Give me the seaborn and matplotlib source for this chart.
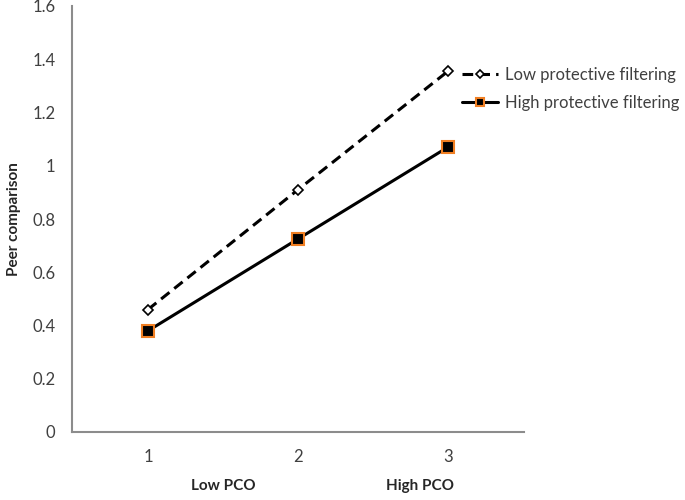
import pandas as pd
import matplotlib
matplotlib.use("Agg")
import matplotlib.pyplot as plt
import seaborn as sns

# data
pco_level = [1, 2, 3]
low_filtering = [0.46, 0.91, 1.355]
high_filtering = [0.38, 0.725, 1.07]
y_ticks = [0, 0.2, 0.4, 0.6, 0.8, 1, 1.2, 1.4, 1.6]
y_tick_labels = ["0", "0.2", "0.4", "0.6", "0.8", "1", "1.2", "1.4", "1.6"]
group_labels = ["Low PCO", "High PCO"]

df = pd.DataFrame({
    "x": pco_level * 2,
    "y": low_filtering + high_filtering,
    "series": ["Low protective filtering"] * 3 + ["High protective filtering"] * 3,
})

sns.set_style("white")
plt.rcParams["font.family"] = ["Lato", "DejaVu Sans"]

fig = plt.figure(figsize=(6.85, 5), dpi=100)
ax = fig.add_axes([0.105, 0.136, 0.66, 0.852])

low = df[df["series"] == "Low protective filtering"]
high = df[df["series"] == "High protective filtering"]

sns.lineplot(data=low, x="x", y="y", ax=ax, color="black", lw=2.2,
             linestyle=(0, (3.5, 2)), marker="D", markersize=5,
             markerfacecolor="white", markeredgecolor="black", markeredgewidth=1.2,
             label="Low protective filtering")
sns.lineplot(data=high, x="x", y="y", ax=ax, color="black", lw=2.2,
             marker="s", markersize=8, markerfacecolor="black",
             markeredgecolor="#F07F23", markeredgewidth=1.5,
             label="High protective filtering")

ax.set_xlim(0.493, 3.507)
ax.set_ylim(0, 1.6)
ax.set_xticks(pco_level)
ax.set_xticklabels([str(v) for v in pco_level])
ax.set_yticks(y_ticks)
ax.set_yticklabels(y_tick_labels)
ax.tick_params(axis="both", length=0, labelsize=12, labelcolor="#404040")
ax.tick_params(axis="x", pad=12)
ax.tick_params(axis="y", pad=12)

for side in ["top", "right"]:
    ax.spines[side].set_visible(False)
for side in ["left", "bottom"]:
    ax.spines[side].set_color("#8c8c8c")
    ax.spines[side].set_linewidth(1.5)

ax.set_xlabel("")
ax.set_ylabel("Peer comparison", fontsize=11, fontweight="bold", labelpad=8)

fig.text(223 / 685, 1 - 486 / 500, group_labels[0], ha="center", va="center",
         fontsize=11, fontweight="bold")
fig.text(420 / 685, 1 - 486 / 500, group_labels[1], ha="center", va="center",
         fontsize=11, fontweight="bold")

leg = ax.legend(loc="upper left", bbox_to_anchor=(455 / 685, 1 - 60 / 500),
                bbox_transform=fig.transFigure, frameon=False,
                fontsize=12, handlelength=2.2, handletextpad=0.4,
                labelspacing=0.75, labelcolor="#404040", borderaxespad=0)
for h in leg.legend_handles:
    h.set_markersize(h.get_markersize() * 0.8)

fig.savefig("out.png", dpi=100)
